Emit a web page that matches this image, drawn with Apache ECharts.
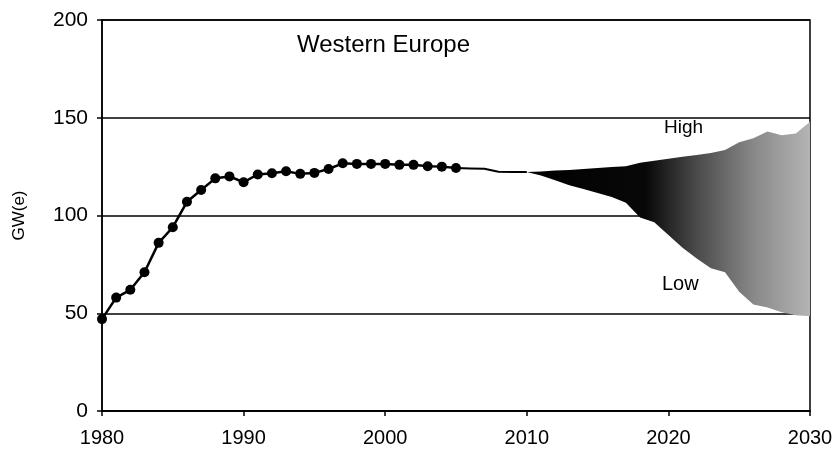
<!DOCTYPE html>
<html>
<head>
<meta charset="utf-8">
<script src="https://cdn.jsdelivr.net/npm/echarts@6/dist/echarts.min.js"></script>
<style>
  html, body { margin: 0; padding: 0; background: #fff; }
  #chart { width: 837px; height: 464px; }
</style>
</head>
<body>
<div id="chart"></div>
<script>
// historical capacity, GW(e)
const histYears = [1980, 1981, 1982, 1983, 1984, 1985, 1986, 1987, 1988, 1989, 1990, 1991, 1992,
  1993, 1994, 1995, 1996, 1997, 1998, 1999, 2000, 2001, 2002, 2003, 2004, 2005]
const histValues = [47, 58, 62, 71, 86, 94, 107, 113, 119, 120, 117, 121, 121.6,
  122.6, 121.3, 121.8, 123.8, 126.7, 126.4, 126.4, 126.4, 125.9, 125.9, 125.2, 125, 124.3]

// short line between last data point and the projection fan
const bridgeYears = [2005, 2006, 2007, 2008, 2009, 2010]
const bridgeValues = [124.3, 124.1, 123.9, 122.4, 122.2, 122.2]

// projection fan (high / low)
const fanYears = [2010, 2011, 2012, 2013, 2014, 2015, 2016, 2017, 2018, 2019, 2020,
  2021, 2022, 2023, 2024, 2025, 2026, 2027, 2028, 2029, 2030]
const fanHigh = [122.2, 122.5, 123, 123.3, 123.8, 124.3, 124.8, 125.2, 127, 128, 129,
  130, 131, 132, 133.5, 137.5, 139.5, 143, 141, 142, 148]
const fanLow = [122.2, 120.5, 118, 115.5, 113.5, 111.5, 109.5, 106.5, 99, 96.5, 90,
  83.5, 78, 73, 71, 61, 54.5, 53, 50.5, 49, 48.5]

const xTicks = [1980, 1990, 2000, 2010, 2020, 2030]
const yTicks = [0, 50, 100, 150, 200]

const chart = echarts.init(document.getElementById('chart'))

const font = 'Liberation Sans, Arial, sans-serif'

const fanFill = new echarts.graphic.LinearGradient(0, 0, 1, 0, [
  { offset: 0, color: '#000' },
  { offset: 0.42, color: '#080808' },
  { offset: 0.6, color: '#4a4a4a' },
  { offset: 0.8, color: '#888' },
  { offset: 1, color: '#b4b4b4' }
])

function renderFan(params, api) {
  const top = fanYears.map((y, i) => api.coord([y, fanHigh[i]]))
  const bottom = fanYears.map((y, i) => api.coord([y, fanLow[i]])).reverse()
  return {
    type: 'polygon',
    shape: { points: top.concat(bottom) },
    style: { fill: fanFill, stroke: null }
  }
}

const option = {
  backgroundColor: '#fff',
  animation: false,
  grid: {
    left: 102, right: 27, top: 20, bottom: 53,
    show: true, borderColor: '#000', borderWidth: 1.5
  },
  xAxis: {
    type: 'value',
    min: xTicks[0],
    max: xTicks[xTicks.length - 1],
    interval: 10,
    axisLine: { lineStyle: { color: '#000', width: 1.5 } },
    axisTick: { show: true, length: 5, lineStyle: { color: '#000', width: 1.5 } },
    axisLabel: { color: '#000', fontSize: 20, fontFamily: font, margin: 17, formatter: v => String(v) },
    splitLine: { show: false }
  },
  yAxis: {
    type: 'value',
    min: yTicks[0],
    max: yTicks[yTicks.length - 1],
    interval: 50,
    name: 'GW(e)',
    nameLocation: 'middle',
    nameGap: 74,
    nameTextStyle: { color: '#000', fontSize: 17, fontFamily: font },
    axisLine: { show: true, lineStyle: { color: '#000', width: 1.5 } },
    axisTick: { show: true, length: 5, lineStyle: { color: '#000', width: 1.5 } },
    axisLabel: { color: '#000', fontSize: 21, fontFamily: font, margin: 14 },
    splitLine: { show: true, lineStyle: { color: '#000', width: 1.5 } }
  },
  graphic: [
    {
      type: 'text', left: 297, top: 33,
      style: { text: 'Western Europe', fill: '#000', font: '24px ' + font }
    },
    {
      type: 'text', left: 664, top: 118,
      style: { text: 'High', fill: '#000', font: '19px ' + font }
    },
    {
      type: 'text', left: 662, top: 274,
      style: { text: 'Low', fill: '#000', font: '20px ' + font }
    }
  ],
  series: [
    {
      name: 'fan',
      type: 'custom',
      data: [[fanYears[0], fanHigh[0]]],
      encode: { x: 0, y: 1 },
      renderItem: renderFan,
      silent: true,
      z: 2
    },
    {
      name: 'bridge',
      type: 'line',
      data: bridgeYears.map((y, i) => [y, bridgeValues[i]]),
      symbol: 'none',
      lineStyle: { color: '#000', width: 2 },
      z: 3
    },
    {
      name: 'history',
      type: 'line',
      data: histYears.map((y, i) => [y, histValues[i]]),
      symbol: 'circle',
      symbolSize: 10,
      clip: false,
      itemStyle: { color: '#000' },
      lineStyle: { color: '#000', width: 2.5 },
      z: 4
    }
  ]
}

chart.setOption(option)
</script>
</body>
</html>
